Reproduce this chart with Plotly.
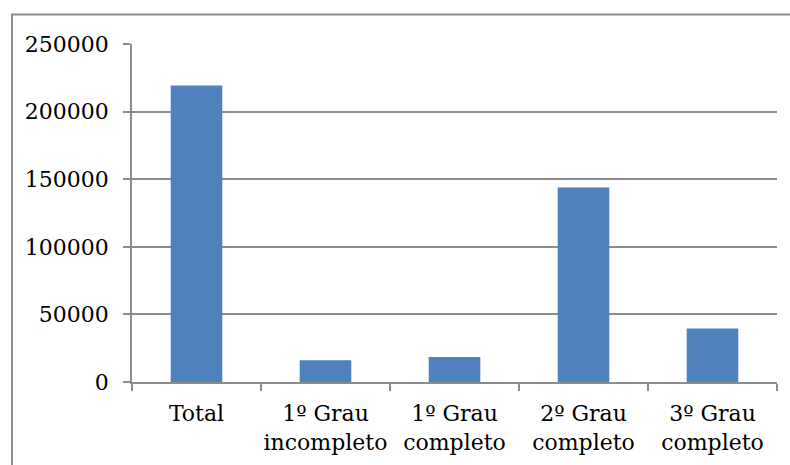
import plotly.graph_objects as go

# Escolaridade: população por grau de instrução
categorias = ["Total", "1º Grau<br>incompleto", "1º Grau<br>completo",
              "2º Grau<br>completo", "3º Grau<br>completo"]
valores = [219300, 16000, 18500, 143800, 39500]
ticks_y = [0, 50000, 100000, 150000, 200000, 250000]

cor_barra = "#4f81bd"
cor_linha = "#8c8c8c"
fonte = dict(family="DejaVu Serif", size=22, color="black")

fig = go.Figure(go.Bar(
    x=categorias,
    y=valores,
    marker=dict(color=cor_barra, line=dict(width=0)),
))

fig.update_layout(
    width=790,
    height=465,
    margin=dict(l=132, r=13, t=44, b=83, autoexpand=False),
    paper_bgcolor="white",
    plot_bgcolor="white",
    bargap=0.6,
    showlegend=False,
    font=fonte,
)

fig.update_xaxes(
    type="category",
    automargin=False,
    tickangle=0,
    showline=True,
    linecolor=cor_linha,
    linewidth=1.5,
    ticks="outside",
    tickson="boundaries",
    ticklen=7,
    tickcolor=cor_linha,
    tickwidth=1.5,
    showgrid=False,
    ticklabelstandoff=11,
    tickfont=fonte,
)

fig.update_yaxes(
    range=[0, 250000],
    automargin=False,
    tickvals=ticks_y,
    ticktext=[str(v) for v in ticks_y],
    showline=True,
    linecolor=cor_linha,
    linewidth=1.5,
    ticks="outside",
    ticklen=7,
    tickcolor=cor_linha,
    tickwidth=1.5,
    showgrid=True,
    gridcolor=cor_linha,
    gridwidth=1.5,
    zeroline=False,
    ticklabelstandoff=10,
    tickfont=fonte,
)

# moldura externa do gráfico
fig.add_shape(
    type="rect",
    xref="paper", yref="paper",
    x0=-0.186, x1=1.2, y0=-0.3, y1=1.087,
    line=dict(color=cor_linha, width=2),
    fillcolor="rgba(0,0,0,0)",
    layer="below",
)

fig.write_html("out.html")
